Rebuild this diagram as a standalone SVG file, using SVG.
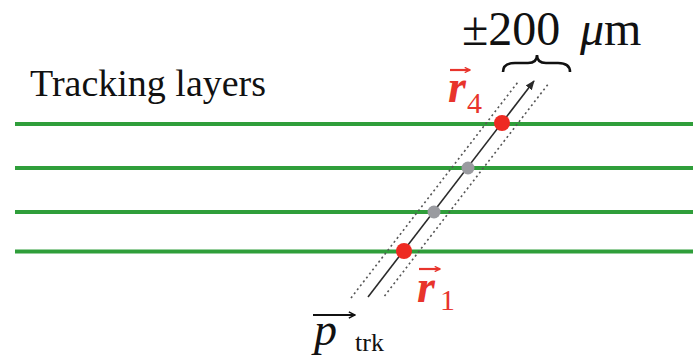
<svg xmlns="http://www.w3.org/2000/svg" width="693" height="358" viewBox="0 0 693 358">
  <defs>
    <style>
      text, tspan { font-family: Liberation Serif, Tinos, serif !important; }
      .layer { stroke: #2f9e3a; stroke-width: 4; fill: none; }
      .red { fill: #e8342c; }
      .hit { fill: #ee2a22; }
      .mid { fill: #9a9ba0; }
      .dotted { stroke: #555; stroke-width: 1.6; stroke-dasharray: 2 3; fill: none; }
      .track { stroke: #2a2a2a; stroke-width: 1.6; fill: none; }
      .vecr { stroke: #e8342c; stroke-width: 2.2; fill: none; }
      .vecp { stroke: #111; stroke-width: 2.2; fill: none; }
    </style>
    <marker id="trkhead" viewBox="0 0 10 10" refX="9" refY="5" markerWidth="6" markerHeight="6" orient="auto" markerUnits="strokeWidth">
      <path d="M0,1 L10,5 L0,9 Z" fill="#2a2a2a"/>
    </marker>
    <marker id="vhead-red" viewBox="0 0 10 10" refX="9" refY="5" markerWidth="3" markerHeight="3" orient="auto" markerUnits="strokeWidth">
      <path d="M1,1 L9,5 L1,9" stroke="#e8342c" stroke-width="2" fill="none"/>
    </marker>
    <marker id="vhead-blk" viewBox="0 0 10 10" refX="9" refY="5" markerWidth="3.5" markerHeight="3.5" orient="auto" markerUnits="strokeWidth">
      <path d="M1,1 L9,5 L1,9" stroke="#111" stroke-width="2" fill="none"/>
    </marker>
  </defs>
  <rect width="693" height="358" fill="#ffffff"/>

  <g id="label-tracking">
    <text x="30" y="96" style="font-family: Liberation Serif, serif !important" font-family="Liberation Serif" font-size="38" fill="#111">Tracking layers</text>
  </g>

  <g id="layers">
    <line class="layer" x1="15" y1="124" x2="693" y2="124"/>
    <line class="layer" x1="15" y1="168" x2="693" y2="168"/>
    <line class="layer" x1="15" y1="212" x2="693" y2="212"/>
    <line class="layer" x1="15" y1="251.5" x2="693" y2="251.5"/>
  </g>

  <g id="connectors">
    <line class="dotted" x1="351" y1="298" x2="518" y2="82"/>
    <line class="dotted" x1="384.5" y1="296" x2="549" y2="83"/>
    <line class="track" x1="368" y1="297" x2="534" y2="81" marker-end="url(#trkhead)"/>
  </g>

  <g id="hit-r1"><circle class="hit" cx="404" cy="251" r="8"/></g>
  <g id="hit-2"><circle class="mid" cx="434" cy="212" r="6.5"/></g>
  <g id="hit-3"><circle class="mid" cx="468" cy="168" r="6.5"/></g>
  <g id="hit-r4"><circle class="hit" cx="502" cy="123" r="8"/></g>

  <g id="tolerance">
    <path d="M503,72 Q503,63 515,63 L528,63 Q537,63 537,55 Q537,63 546,63 L558,63 Q570,63 570,72" stroke="#111" stroke-width="2.6" fill="none"/>
    <text x="462" y="45" style="font-family: Liberation Serif, serif !important" font-family="Liberation Serif" font-size="48" fill="#111">±200<tspan x="580" font-style="italic">μ</tspan>m</text>
  </g>

  <g id="label-r4">
    <line class="vecr" x1="450" y1="70" x2="470" y2="70" marker-end="url(#vhead-red)"/>
    <text class="red" x="448" y="102" style="font-family: Liberation Serif, serif !important" font-family="Liberation Serif" font-size="46" font-style="italic" font-weight="bold">r</text>
    <text class="red" x="467" y="113" style="font-family: Liberation Serif, serif !important" font-family="Liberation Serif" font-size="30">4</text>
  </g>

  <g id="label-r1">
    <line class="vecr" x1="419" y1="269" x2="440" y2="269" marker-end="url(#vhead-red)"/>
    <text class="red" x="417" y="302" style="font-family: Liberation Serif, serif !important" font-family="Liberation Serif" font-size="46" font-style="italic" font-weight="bold">r</text>
    <text class="red" x="440" y="310" style="font-family: Liberation Serif, serif !important" font-family="Liberation Serif" font-size="30">1</text>
  </g>

  <g id="label-ptrk">
    <line class="vecp" x1="313" y1="315" x2="355" y2="315" marker-end="url(#vhead-blk)"/>
    <text x="314" y="345" style="font-family: Liberation Serif, serif !important" font-family="Liberation Serif" font-size="46" font-style="italic" fill="#111">p</text>
    <text x="355" y="351" style="font-family: Liberation Serif, serif !important" font-family="Liberation Serif" font-size="26" fill="#111">trk</text>
  </g>
</svg>
